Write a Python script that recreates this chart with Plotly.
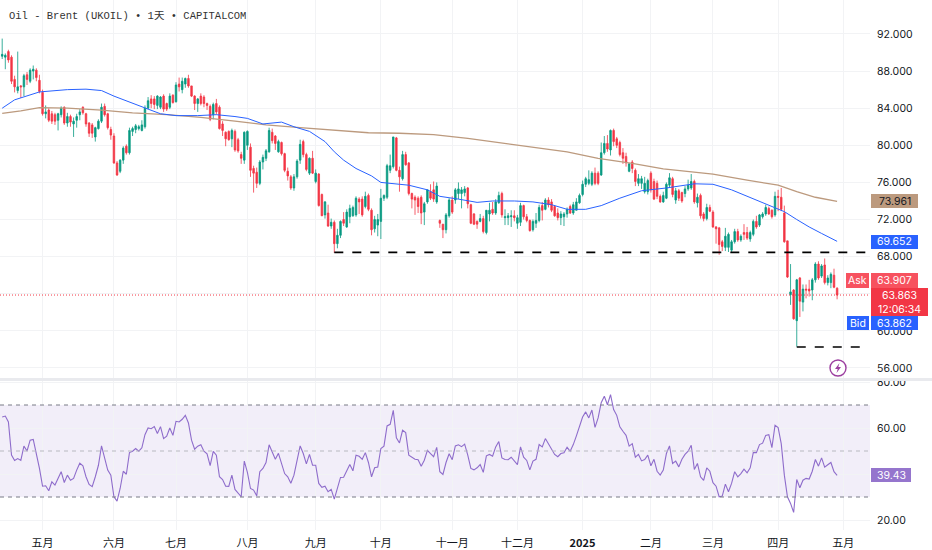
import plotly.graph_objects as go
from plotly.subplots import make_subplots

# daily candles
opens = [
    89.6,89.5,90.1,89.5,87.1,85.9,86.4,86.3,87.6,86.9,
    88.0,88.1,87.0,85.7,83.4,83.8,83.4,83.3,82.7,83.3,
    84.1,82.4,83.1,82.3,82.7,83.3,84.1,83.4,82.4,82.2,
    80.9,81.8,82.6,84.2,83.4,81.7,81.0,78.1,77.2,78.4,
    79.9,79.2,81.5,81.7,81.8,81.6,82.0,84.0,85.0,85.0,
    84.3,84.1,85.3,84.5,84.1,85.4,84.7,86.6,86.0,86.6,
    87.2,86.4,85.3,84.5,85.3,85.2,84.5,84.2,83.3,84.5,
    84.1,82.3,81.4,81.5,80.7,81.5,80.6,79.0,78.4,80.0,
    79.8,77.5,77.1,75.9,78.2,78.6,79.3,81.4,81.0,79.3,
    80.3,79.1,77.2,76.6,75.4,76.6,78.4,80.4,79.0,77.0,
    78.6,76.1,76.9,74.7,72.5,72.7,71.3,71.7,69.4,70.3,
    72.0,71.2,72.3,72.4,72.5,74.2,74.2,73.4,74.6,73.0,
    71.0,71.4,71.8,74.3,74.4,77.3,77.7,80.8,77.3,76.4,
    79.0,78.1,74.8,74.4,74.3,74.4,72.8,73.9,75.0,75.2,
    73.9,71.9,71.5,70.9,72.4,74.1,74.1,74.8,74.8,74.9,
    75.4,73.6,72.6,71.8,71.8,72.1,70.6,72.6,73.1,72.7,
    73.8,74.8,72.2,72.2,72.3,72.4,71.6,71.7,73.5,72.3,
    71.9,70.9,71.6,71.9,73.5,73.1,74.1,73.9,73.4,72.7,
    72.2,72.3,72.6,73.4,72.7,73.0,73.8,74.7,75.8,75.9,
    75.8,77.0,77.0,76.8,79.2,80.2,79.5,81.6,80.7,80.3,
    79.2,78.8,77.2,78.2,77.3,75.9,75.9,75.0,75.0,77.0,
    76.1,75.9,74.5,73.9,74.3,75.7,76.4,74.1,75.1,74.9,
    74.8,75.3,75.4,76.1,73.8,74.6,72.6,72.1,73.3,72.8,
    71.2,71.1,69.6,69.0,69.0,68.7,69.6,70.7,69.8,70.6,
    70.6,69.9,70.4,71.8,71.4,72.3,72.6,73.2,73.0,72.5,
    74.5,74.4,72.7,69.7,63.9,64.4,61.1,65.7,63.1,64.5,
    64.5,64.4,65.5,67.2,65.9,67.1,65.2,65.2,66.0,64.6,
]
highs = [
    91.5,89.9,90.3,89.7,87.5,90.1,86.5,87.7,87.9,88.3,
    88.6,88.3,87.6,86.0,84.3,84.0,83.7,83.5,83.5,84.2,
    84.2,83.5,83.3,83.0,83.4,83.9,84.2,83.5,82.5,82.4,
    82.0,82.8,84.5,84.5,83.5,82.0,81.3,78.3,78.5,79.9,
    80.1,81.9,82.0,82.3,82.2,82.7,84.3,85.2,85.4,85.3,
    85.4,85.3,85.5,84.6,85.6,85.5,86.8,87.3,87.3,87.3,
    87.6,86.4,85.4,85.1,85.6,85.4,84.6,84.4,84.6,85.0,
    84.3,82.6,81.5,81.6,81.8,81.7,80.8,79.3,81.5,81.6,
    80.2,77.8,77.6,78.4,79.0,79.6,81.9,81.8,81.1,80.6,
    80.4,79.2,77.6,76.8,76.9,78.5,80.6,80.6,79.2,78.7,
    79.4,77.4,77.0,74.8,74.0,73.6,72.1,71.9,71.0,71.9,
    72.8,73.1,73.6,73.5,74.5,74.4,74.5,75.0,74.8,73.2,
    72.4,72.6,75.3,74.7,78.0,79.0,80.9,80.9,77.7,79.4,
    79.3,78.2,74.9,74.6,74.5,74.6,73.9,75.2,75.8,76.1,
    76.0,72.0,71.5,72.7,74.3,74.5,75.4,76.0,75.5,75.6,
    75.5,73.7,72.7,71.9,72.6,72.4,73.0,73.8,73.9,74.2,
    75.0,75.0,73.1,72.7,73.0,73.0,72.5,73.8,73.6,72.6,
    72.0,72.0,72.7,73.6,73.9,74.3,74.4,74.2,73.5,73.2,
    72.9,72.8,73.3,73.6,73.9,74.3,74.8,76.2,76.6,77.3,
    77.2,77.6,77.2,80.3,81.0,81.1,81.7,81.8,80.9,80.5,
    79.7,79.2,78.1,78.4,77.5,76.9,76.7,76.6,76.4,77.2,
    76.4,76.2,74.7,75.0,76.0,77.0,76.6,75.4,75.3,75.0,
    75.6,76.3,76.9,76.3,74.8,74.8,72.8,73.7,73.6,73.0,
    71.3,71.2,69.8,71.1,70.6,69.8,71.0,71.0,70.4,71.5,
    71.2,70.8,72.0,72.4,72.6,72.8,73.6,73.4,73.1,75.0,
    75.2,75.4,73.5,69.7,67.2,64.5,65.6,65.8,65.0,65.0,
    65.5,65.7,67.4,67.5,67.2,67.8,66.0,66.3,66.7,64.7,
]
lows = [
    89.3,88.2,88.9,86.6,85.7,85.6,85.1,85.3,86.5,86.7,
    87.1,86.9,85.6,83.2,82.9,82.5,82.3,82.2,81.6,83.0,
    82.2,82.0,82.0,80.9,81.9,82.7,83.3,82.0,80.9,80.8,
    80.4,81.7,82.4,83.1,81.7,80.6,78.0,76.7,77.0,78.0,
    79.0,79.0,81.0,81.3,81.6,81.5,81.8,83.9,84.0,83.9,
    83.9,83.9,83.6,83.7,83.9,84.5,84.6,85.8,85.6,86.2,
    86.2,85.2,83.8,83.6,84.3,84.1,83.8,82.6,82.8,83.3,
    81.7,81.0,79.9,80.5,79.8,79.3,79.2,78.0,78.0,79.5,
    76.6,74.9,75.4,75.7,77.4,78.3,79.2,80.2,79.5,79.2,
    78.9,77.1,76.2,75.2,75.1,76.4,78.0,78.7,77.2,76.8,
    76.9,75.9,73.4,72.4,72.1,71.2,71.0,68.4,68.9,70.0,
    71.3,71.1,71.6,72.3,72.3,72.6,72.3,73.2,72.9,70.3,
    70.6,70.2,69.9,74.0,74.2,77.0,77.5,77.2,75.0,76.2,
    77.8,74.6,73.2,72.5,72.7,71.5,71.4,73.7,74.1,73.9,
    73.7,71.1,70.0,70.5,72.2,72.6,73.7,74.2,73.2,74.5,
    73.2,71.5,71.4,71.0,71.7,70.5,70.4,71.8,72.5,72.5,
    73.7,72.2,71.4,71.4,71.2,71.8,71.0,71.3,72.0,71.7,
    70.7,70.7,71.1,71.7,71.9,73.0,73.3,72.8,72.3,71.9,
    71.4,71.3,72.2,72.6,72.5,73.0,73.7,74.5,75.5,75.7,
    75.6,75.7,75.7,76.7,79.0,79.3,78.9,79.9,79.7,78.8,
    78.0,77.7,77.1,77.0,75.6,75.6,75.3,74.8,74.7,74.9,
    74.1,74.2,73.8,73.8,74.2,75.5,74.4,73.7,74.0,73.8,
    74.4,75.1,75.2,73.7,73.3,72.1,71.8,71.9,72.8,71.1,
    69.4,68.2,68.6,68.6,68.5,68.5,69.4,69.6,69.6,69.8,
    69.8,69.6,70.2,71.0,71.2,72.1,72.4,72.5,72.1,72.3,
    72.9,72.9,69.5,65.7,62.8,61.2,58.3,61.5,62.1,63.5,
    63.7,63.3,65.2,65.5,65.7,65.0,64.9,64.6,64.6,63.4,
]
closes = [
    89.8,89.7,89.2,86.9,86.3,86.3,86.3,87.5,87.1,88.1,
    88.2,87.3,85.8,83.4,83.6,82.7,82.6,82.6,83.4,84.0,
    82.4,83.1,82.5,82.6,83.1,83.6,83.5,82.3,81.3,81.3,
    81.9,82.6,84.1,83.3,81.9,81.1,78.1,76.8,78.4,79.7,
    79.2,81.6,81.8,82.1,82.0,82.2,84.0,84.8,84.5,84.4,
    85.3,85.2,83.9,83.9,85.3,84.6,86.5,86.3,86.9,87.2,
    86.4,85.3,84.5,85.0,84.5,84.5,84.3,82.8,84.4,83.6,
    81.8,81.6,80.7,80.6,81.6,79.5,79.4,78.6,81.4,81.5,
    77.3,77.0,75.9,78.2,78.7,79.4,81.6,80.5,80.2,80.4,
    79.1,77.3,76.7,75.4,76.6,78.3,80.1,79.0,77.4,78.6,
    77.0,77.0,73.5,72.4,73.9,71.3,71.7,69.4,70.3,71.8,
    71.6,72.8,73.2,73.3,74.3,73.9,72.5,74.5,73.1,70.9,
    72.0,72.0,74.3,74.6,77.8,77.8,80.9,77.3,76.6,79.0,
    77.9,74.8,74.2,74.1,73.4,72.7,73.7,75.2,74.3,74.2,
    75.6,71.6,70.9,72.5,74.1,72.8,75.2,75.3,75.2,75.3,
    73.7,71.6,71.5,71.5,72.1,70.7,73.0,73.0,72.7,73.9,
    74.6,72.5,72.3,72.4,72.4,72.2,72.2,73.5,72.3,71.9,
    70.8,71.8,71.9,73.3,73.0,74.1,73.6,73.0,72.4,72.2,
    72.6,72.6,73.1,72.7,73.6,73.9,74.6,75.8,76.4,76.3,
    77.0,75.9,75.9,79.2,80.2,79.6,81.6,80.4,80.0,79.0,
    78.6,78.1,78.0,77.5,76.1,76.4,76.4,75.9,76.2,75.2,
    74.2,74.5,73.9,74.6,75.8,76.5,74.7,75.1,74.3,74.0,
    75.3,75.7,76.1,73.9,74.4,72.4,72.1,73.3,72.9,71.2,
    71.0,69.3,69.1,70.2,70.4,69.6,70.7,69.8,70.2,70.4,
    70.0,70.6,71.8,71.2,72.5,72.6,73.3,72.6,72.3,74.5,
    74.4,73.1,69.6,65.8,64.2,61.3,65.5,63.2,64.5,64.4,
    64.3,65.5,67.2,65.7,67.0,65.2,65.7,66.1,64.7,63.86,
]
rsi = [
    64.8,65.2,62.6,48.2,45.9,46.7,45.9,52.1,50.0,54.7,
    55.0,48.9,42.4,34.7,34.9,32.7,36.6,35.2,38.4,41.0,
    36.3,39.5,37.3,38.1,41.7,44.7,43.6,38.8,35.5,34.5,
    38.8,43.8,52.2,47.5,41.7,39.5,30.1,28.2,33.7,41.2,
    39.9,49.3,49.9,51.1,49.9,51.4,57.1,60.0,59.7,60.6,
    57.6,60.6,55.4,56.4,60.0,56.8,62.9,62.6,63.8,65.5,
    62.2,54.7,50.8,52.1,52.7,49.9,48.8,43.6,49.8,48.2,
    38.8,37.6,34.7,34.6,39.5,33.3,31.9,30.1,45.6,40.7,
    33.7,33.0,30.5,41.0,42.4,45.0,52.7,49.9,46.4,49.0,
    44.6,40.2,38.8,36.0,39.5,45.3,52.2,48.9,44.4,48.5,
    43.8,43.8,35.9,34.2,34.7,32.3,33.3,29.1,33.7,38.5,
    38.6,41.2,44.1,41.4,48.2,47.7,46.4,49.3,45.0,38.8,
    42.7,43.0,51.1,52.1,60.9,61.6,67.7,55.7,53.5,59.0,
    58.0,48.2,47.2,46.4,46.2,43.4,46.0,50.3,48.9,47.5,
    51.6,41.0,39.8,45.0,48.8,46.2,52.2,52.7,51.9,53.0,
    48.2,42.4,41.8,42.7,44.1,40.7,47.9,48.5,47.7,51.8,
    54.1,47.0,46.3,46.2,47.3,45.6,44.1,51.8,47.3,45.9,
    41.8,45.6,46.4,52.8,51.8,55.4,53.1,50.8,48.5,47.5,
    48.9,49.2,51.6,49.9,52.8,56.6,61.2,64.8,67.0,64.4,
    67.8,60.3,64.4,71.0,73.8,70.1,74.5,68.0,65.5,60.5,
    58.6,56.8,52.1,53.2,47.3,48.5,45.7,46.3,48.2,43.6,
    46.4,41.2,39.5,41.7,48.9,52.2,44.6,45.6,43.1,46.4,
    48.5,49.9,52.5,42.0,44.6,38.8,37.2,42.7,41.2,36.2,
    34.7,30.1,30.4,35.6,32.3,35.9,41.0,38.8,40.2,42.1,
    40.5,42.7,49.3,49.3,52.8,53.4,56.8,57.1,51.5,61.2,
    60.2,53.2,39.5,30.1,27.2,23.3,37.6,34.0,37.3,38.1,
    37.8,41.2,46.3,43.4,47.0,43.0,44.0,45.0,41.0,39.43,
]

# moving averages, read at the bars where the curve is easiest to see
ma_blue_idx = [0,4,12,21,27,32,36,42,47,51,56,63,69,75,79,84,90,94,99,104,107,110,114,119,122,128,
               131,137,141,147,153,158,165,171,177,182,188,193,199,206,214,223,229,235,241,247,252,256,260,264,269]
ma_blue = [84.0,84.9,85.75,86.0,86.05,85.9,85.3,84.5,83.9,83.4,83.2,83.2,83.3,83.1,82.9,82.3,82.5,82.0,81.5,
           80.4,79.3,78.4,77.5,76.7,76.0,75.8,75.7,75.2,74.5,74.2,73.85,74.0,74.0,73.9,73.6,73.1,73.1,73.5,
           74.3,75.1,75.4,75.85,75.8,75.2,74.4,73.6,72.85,72.0,71.2,70.5,69.65]
ma_tan_idx = [0,6,12,21,32,42,53,64,75,85,96,107,118,128,139,150,160,171,182,192,203,213,229,240,250,256,262,269]
ma_tan = [83.45,83.7,84.05,84.0,83.8,83.5,83.3,83.0,82.6,82.2,81.9,81.65,81.35,81.3,81.15,80.75,80.3,79.85,
          79.3,78.6,78.05,77.45,76.9,76.25,75.7,75.0,74.4,73.96]

month_idx = [13,36,56,79,101,122,145,166,187,209,229,250,271]
month_labels = ["五月","六月","七月","八月","九月","十月","十一月","十二月","<b>2025</b>","二月","三月","四月","五月"]
price_ticks = [92,88,84,80,76,72,68,64,60,56]
price_labels = ["92.000","88.000","84.000","80.000","76.000","72.000","68.000","","60.000","56.000"]
rsi_ticks = [80,60,40,20]
rsi_labels = ["80.00","60.00","","20.00"]

support_top = 68.45
support_bottom = 58.26
last_price = 63.863

W, H = 932, 550
PLOT_W = 870
RED = "#F23645"
GREEN = "#089981"
BLUE = "#2962FF"
TAN = "#BC9A7E"
PURPLE = "#8E6CCB"
BOLT = "#9C3FA0"
GRID = "#F2F3F5"
TEXT = "#131722"
FONT = "Inter, Roboto, sans-serif"

x_range = [-0.71, 279.6]
bars = list(range(len(closes)))

fig = make_subplots(rows=2, cols=1, shared_xaxes=True)

fig.add_trace(go.Candlestick(
    x=bars, open=opens, high=highs, low=lows, close=closes,
    increasing=dict(line=dict(color=GREEN, width=0.8), fillcolor=GREEN),
    decreasing=dict(line=dict(color=RED, width=0.8), fillcolor=RED),
    whiskerwidth=0,
), row=1, col=1)
fig.add_trace(go.Scatter(x=ma_tan_idx, y=ma_tan, mode="lines", line=dict(color=TAN, width=1.3)), row=1, col=1)
fig.add_trace(go.Scatter(x=ma_blue_idx, y=ma_blue, mode="lines", line=dict(color=BLUE, width=1)), row=1, col=1)
fig.add_trace(go.Scatter(x=[107, x_range[1]], y=[support_top, support_top], mode="lines",
                         line=dict(color="black", width=1.7, dash="9px,9px")), row=1, col=1)
fig.add_trace(go.Scatter(x=[256, 277], y=[support_bottom, support_bottom], mode="lines",
                         line=dict(color="black", width=1.7, dash="9px,9px")), row=1, col=1)
fig.add_trace(go.Scatter(x=x_range, y=[last_price, last_price], mode="lines",
                         line=dict(color=RED, width=1, dash="1px,2px")), row=1, col=1)
fig.add_trace(go.Scatter(x=bars, y=rsi, mode="lines", line=dict(color=PURPLE, width=1.1)), row=2, col=1)


def px(x):
    return x / W


def py(y):
    return 1 - y / H


def tag(text, x0, y0, x1, y1, bg, color="white", size=10.5):
    fig.add_shape(type="rect", xref="paper", yref="paper", x0=px(x0), x1=px(x1), y0=py(y0), y1=py(y1),
                  fillcolor=bg, line=dict(width=0), layer="above")
    fig.add_annotation(text=text, xref="paper", yref="paper", x=px((x0 + x1) / 2), y=py((y0 + y1) / 2),
                       showarrow=False, font=dict(family=FONT, size=size, color=color),
                       xanchor="center", yanchor="middle", align="center")


# rsi band and its levels
fig.add_shape(type="rect", xref="x2 domain", yref="y2", x0=0, x1=1, y0=30, y1=70,
              fillcolor="rgba(126,87,194,0.1)", line=dict(width=0), layer="below")
fig.add_hline(y=70, row=2, col=1, line=dict(color="#787B86", width=1, dash="4px,4px"))
fig.add_hline(y=50, row=2, col=1, line=dict(color="#B8B9C0", width=1, dash="4px,4px"))
fig.add_hline(y=30, row=2, col=1, line=dict(color="#787B86", width=1, dash="4px,4px"))

# pane divider
fig.add_shape(type="rect", xref="paper", yref="paper", x0=0, x1=1, y0=py(381), y1=py(378),
              fillcolor="#E9EAEE", line=dict(width=0))

# price scale tags
tag("73.961", 871, 194, 918, 208, TAN, TEXT)
tag("69.652", 871, 235, 918, 249, BLUE)
tag("Ask", 846, 273, 869, 288, "#F7525F")
tag("63.907", 871, 273, 918, 288, "#F7525F")
tag("63.863<br>12:06:34", 871, 288, 928, 316, RED)
tag("Bid", 847, 316, 869, 330, BLUE)
tag("63.862", 871, 316, 918, 330, BLUE)
tag("39.43", 871, 468, 911, 482, "#9575CD")

# bolt badge
fig.add_shape(type="circle", xref="paper", yref="paper", x0=px(830), x1=px(846), y0=py(376), y1=py(360),
              line=dict(color=BOLT, width=1.4), fillcolor="white")
bolt_pts = [(839.5, 363), (835, 369), (837.7, 369), (836.5, 373), (841, 367), (838.3, 367)]
bolt_path = "M " + " L ".join(f"{px(a)} {py(b)}" for a, b in bolt_pts) + " Z"
fig.add_shape(type="path", xref="paper", yref="paper", path=bolt_path, fillcolor=BOLT, line=dict(width=0))

fig.add_annotation(text="Oil - Brent (UKOIL) • 1天 • CAPITALCOM", xref="paper", yref="paper",
                   x=px(7), y=py(16), xanchor="left", yanchor="middle", showarrow=False,
                   font=dict(family="Liberation Mono, Noto Sans CJK SC", size=10.5, color="#333333"))

axis_font = dict(family=FONT, size=10.5, color=TEXT)
fig.update_layout(
    width=W, height=H, showlegend=False, paper_bgcolor="white", plot_bgcolor="white",
    margin=dict(l=0, r=0, t=0, b=0, pad=0, autoexpand=False),
    xaxis=dict(domain=[0, PLOT_W / W], range=x_range, rangeslider=dict(visible=False),
               tickvals=month_idx, ticktext=month_labels, showticklabels=False,
               gridcolor=GRID, showline=False, zeroline=False),
    xaxis2=dict(domain=[0, PLOT_W / W], range=x_range, tickvals=month_idx, ticktext=month_labels,
                gridcolor=GRID, showline=False, zeroline=False, ticks="outside", ticklen=3,
                tickcolor="white", tickfont=dict(family="Noto Sans CJK SC, Inter", size=11, color=TEXT)),
    yaxis=dict(domain=[1 - 378 / H, 1], range=[54.92, 95.66], side="right", tickvals=price_ticks,
               ticktext=price_labels, gridcolor=GRID, zeroline=False, showline=False, tickfont=axis_font,
               ticks="outside", ticklen=4, tickcolor="white"),
    yaxis2=dict(domain=[20 / H, 170 / H], range=[15.65, 80.87], side="right", tickvals=rsi_ticks,
                ticktext=rsi_labels, gridcolor=GRID, zeroline=False, showline=False, tickfont=axis_font,
                ticks="outside", ticklen=4, tickcolor="white"),
)

# drop the page margin so the chart sits at the window corner
fig.write_html("out.html", config=dict(displayModeBar=False),
               post_script="document.body.style.margin='0';document.body.style.overflow='hidden';")
